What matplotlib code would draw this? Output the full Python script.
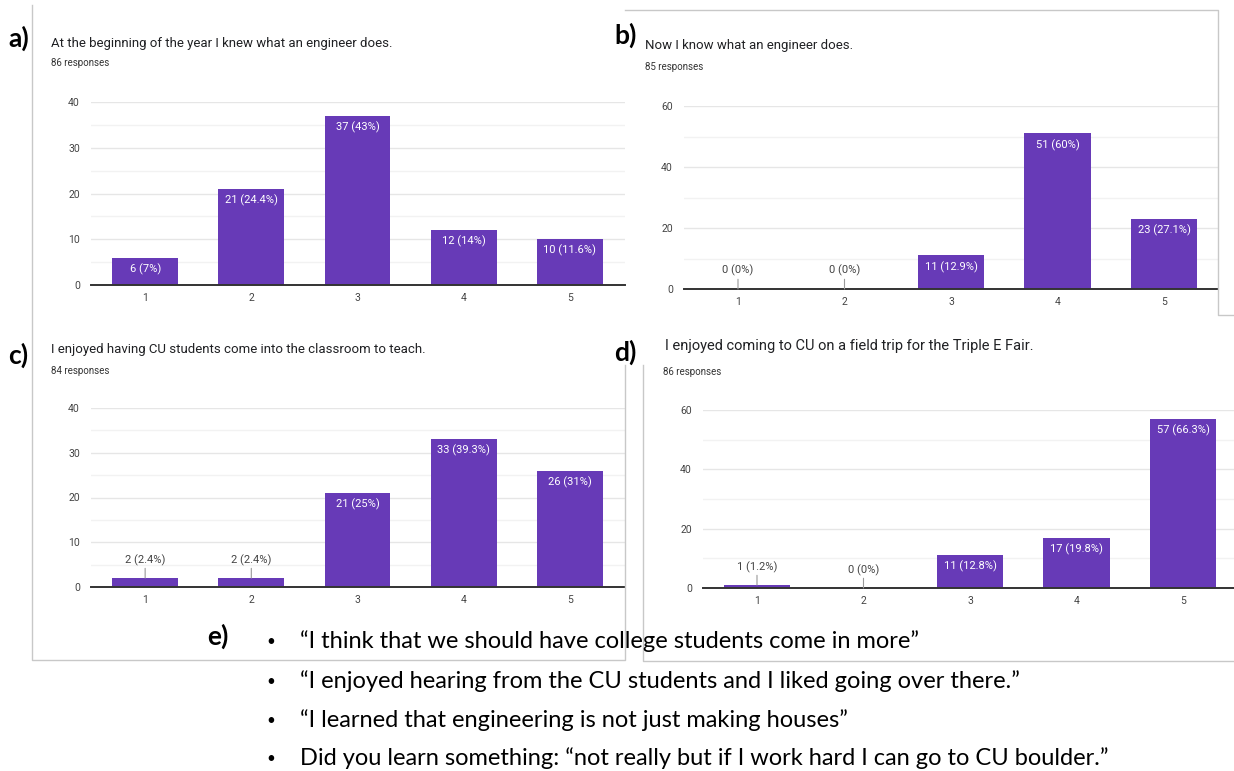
import matplotlib
matplotlib.use("Agg")
import matplotlib.pyplot as plt
from matplotlib.lines import Line2D

# survey answers (scale 1-5)
cats = [1, 2, 3, 4, 5]

a_counts = [6, 21, 37, 12, 10]
a_pct = ['7%', '24.4%', '43%', '14%', '11.6%']
b_counts = [0, 0, 11, 51, 23]
b_pct = ['0%', '0%', '12.9%', '60%', '27.1%']
c_counts = [2, 2, 21, 33, 26]
c_pct = ['2.4%', '2.4%', '25%', '39.3%', '31%']
d_counts = [1, 0, 11, 17, 57]
d_pct = ['1.2%', '0%', '12.8%', '19.8%', '66.3%']

titles = ['At the beginning of the year I knew what an engineer does.',
          'Now I know what an engineer does.',
          'I enjoyed having CU students come into the classroom to teach.',
          'I enjoyed coming to CU on a field trip for the Triple E Fair.']
responses = ['86 responses', '85 responses', '84 responses', '86 responses']

quotes = ['\u201cI think that we should have college students come in more\u201d',
          '\u201cI enjoyed hearing from the CU students and I liked going over there.\u201d',
          '\u201cI learned that engineering is not just making houses\u201d',
          'Did you learn something: \u201cnot really but if I work hard I can go to CU boulder.\u201d']

W, H = 1234, 771
PURPLE = '#673ab7'
FONT = ['Roboto', 'DejaVu Sans']
QFONT = ['Lato', 'DejaVu Sans']

fig = plt.figure(figsize=(W / 100, H / 100), dpi=100)


def ftext(x, y, s, **kw):
    fig.text(x / W, 1 - y / H, s, **kw)


def fline(xs, ys):
    fig.add_artist(Line2D([x / W for x in xs], [1 - y / H for y in ys],
                          color='#c8c8c8', lw=1.0))


def bar_panel(left, right, top, bottom, xlim, ymax, step, counts, pct):
    ax = fig.add_axes([left / W, 1 - bottom / H, (right - left) / W, (bottom - top) / H])
    ax.bar(cats, counts, width=0.62, color=PURPLE, zorder=3)
    ax.set_xlim(*xlim)
    ax.set_ylim(0, ymax)
    ax.set_yticks(range(0, ymax + 1, step))
    ax.set_yticks(range(step // 2, ymax, step), minor=True)
    ax.set_xticks(cats)
    ax.grid(axis='y', which='major', color='#e6e6e6', lw=1.0, zorder=0)
    ax.grid(axis='y', which='minor', color='#f2f2f2', lw=1.0, zorder=0)
    ax.tick_params(which='both', length=0, labelsize=7.5, labelcolor='#444444')
    ax.tick_params(axis='y', pad=8)
    ax.tick_params(axis='x', pad=6)
    for lab in ax.get_xticklabels() + ax.get_yticklabels():
        lab.set_family(FONT)
    for s in ['top', 'left', 'right']:
        ax.spines[s].set_visible(False)
    ax.spines['bottom'].set_color('#333333')
    ax.spines['bottom'].set_linewidth(1.4)
    ax.spines['bottom'].set_zorder(4)
    for x, v, p in zip(cats, counts, pct):
        label = f'{v} ({p})'
        if v > 0.1 * ymax:
            ax.annotate(label, xy=(x, v), xytext=(0, -4), textcoords='offset points',
                        ha='center', va='top', color='white', fontsize=8,
                        family=FONT, zorder=5)
        else:
            ax.annotate(label, xy=(x, v), xytext=(0, 9), textcoords='offset points',
                        ha='center', va='bottom', color='#444444', fontsize=8,
                        family=FONT, zorder=5,
                        arrowprops=dict(arrowstyle='-', color='#999999', lw=0.8,
                                        shrinkA=0, shrinkB=0))
    return ax


bar_panel(91, 625, 102, 285, (0.49, 5.52), 40, 10, a_counts, a_pct)
bar_panel(684, 1218, 106, 289, (0.493, 5.507), 60, 20, b_counts, b_pct)
bar_panel(91, 625, 408, 587, (0.49, 5.52), 40, 10, c_counts, c_pct)
bar_panel(703, 1234, 410, 588, (0.493, 5.479), 60, 20, d_counts, d_pct)

# chart titles
title_pos = [(51, 43, 63, 9.5), (645, 45, 67, 9.5), (51, 350, 371, 9.5), (665, 346, 372, 10.5)]
for (x, y, ry, fs), t, r in zip(title_pos, titles, responses):
    ftext(x, y, t, fontsize=fs, color='#202124', family=FONT, va='center')
    ftext(x - 2 if x == 665 else x, ry, r, fontsize=7, color='#333333', family=FONT, va='center')

# panel letters
for x, y, s in [(8, 38, 'a)'), (614, 35, 'b)'), (8, 355, 'c)'), (614, 352, 'd)'), (207, 636, 'e)')]:
    ftext(x, y, s, fontsize=19, fontweight='bold', family=QFONT, va='center', color='black')

# screenshot frames
fline([32, 32, 625, 625], [5, 660, 660, 365])
fline([625, 1218, 1218, 1234], [10, 10, 315, 315])
fline([643, 643, 1234], [365, 661, 661])

# student quotes
for y, q in zip([642, 682, 721, 759], quotes):
    ftext(266, y, '\u2022', fontsize=11, family=QFONT, va='center', color='black')
    ftext(300, y - 1, q, fontsize=17, family=QFONT, va='center', color='black')

fig.savefig('out.png', dpi=100)
